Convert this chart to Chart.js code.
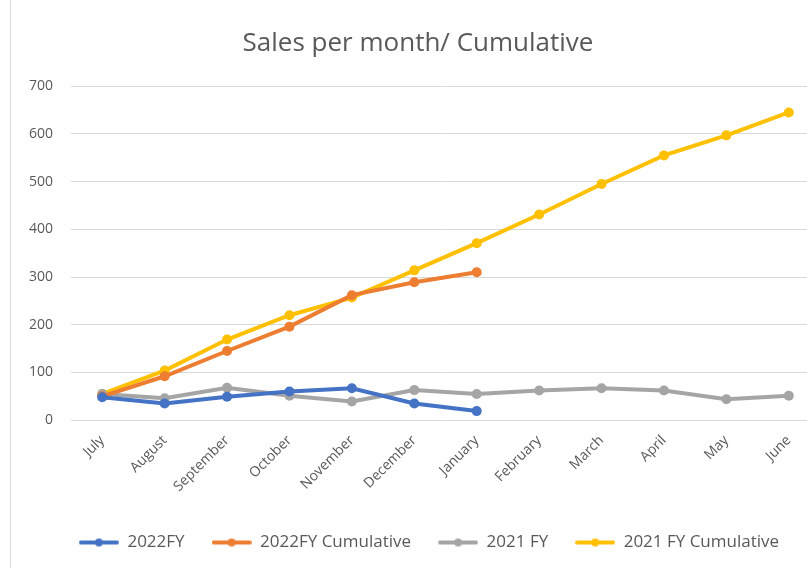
<!DOCTYPE html>
<html>
<head>
<meta charset="utf-8">
<script src="https://cdn.jsdelivr.net/npm/chart.js@4"></script>
<style>
  html,body{margin:0;padding:0;background:#fff;overflow:hidden;}
  #wrap{position:absolute;left:10px;top:0;width:814px;height:590px;border-left:1px solid #d9d9d9;}
</style>
</head>
<body>
<div id="wrap"><canvas id="c" width="814" height="590"></canvas></div>
<script>
const months = ["July","August","September","October","November","December","January","February","March","April","May","June"];
const fy2022 = [48,35,49,60,67,35,19];
const fy2022Cum = [50,92,145,196,262,289,310];
const fy2021 = [55,46,68,51,39,63,55,62,67,62,44,51];
const fy2021Cum = [55,104,169,220,257,314,371,431,495,555,597,645];
const yTicks = [0,100,200,300,400,500,600,700];

function qs(id){ return document.getElementById(id); }

// small line-with-dot swatch for the legend, like Excel
function swatch(color){
  const c = document.createElement("canvas");
  c.width = 40; c.height = 12;
  const g = c.getContext("2d");
  g.strokeStyle = color; g.lineWidth = 4; g.lineCap = "round";
  g.beginPath(); g.moveTo(2,6); g.lineTo(38,6); g.stroke();
  g.fillStyle = color;
  g.beginPath(); g.arc(20,6,4,0,Math.PI*2); g.fill();
  return c;
}

function ds(label, data, color){
  return {
    label, data,
    borderColor: color, backgroundColor: color,
    borderWidth: 4, pointRadius: 5, pointHoverRadius: 5, pointBorderWidth: 0,
    pointBackgroundColor: color, pointBorderColor: color,
    tension: 0, fill: false, pointStyle: "circle"
  };
}

const series = [
  ds("2022FY", fy2022, "#4472C4"),
  ds("2022FY Cumulative", fy2022Cum, "#ED7D31"),
  ds("2021 FY", fy2021, "#A5A5A5"),
  ds("2021 FY Cumulative", fy2021Cum, "#FFC000")
];

// legend sits a bit right of centre in the original
const nudgeLegend = {
  id: "nudgeLegend",
  afterLayout(chart){
    if(chart.legend){ chart.legend.left += 11; chart.legend.right += 11; }
  }
};

new Chart(qs("c"), {
  type: "line",
  data: { labels: months, datasets: series },
  plugins: [nudgeLegend],
  options: {
    responsive: false, animation: false,
    layout: { padding: { left: 0, right: 0, top: 28, bottom: 29 } },
    plugins: {
      title: {
        display: true, text: "Sales per month/ Cumulative",
        color: "#595959", font: { family: "Open Sans", size: 26, weight: "normal" },
        padding: { top: 0, bottom: 27 }
      },
      legend: {
        position: "bottom",
        labels: {
          usePointStyle: true, pointStyleWidth: 40, color: "#595959",
          font: { family: "Open Sans", size: 17 },
          padding: 27,
          generateLabels(chart){
            return chart.data.datasets.map((d, i) => ({
              text: d.label, pointStyle: swatch(d.borderColor), fillStyle: d.borderColor,
              strokeStyle: d.borderColor, lineWidth: 0, hidden: false,
              datasetIndex: i, fontColor: "#595959"
            }));
          }
        }
      },
      tooltip: { enabled: false }
    },
    scales: {
      x: {
        offset: true,
        grid: { display: false, drawTicks: false },
        border: { display: false },
        ticks: {
          color: "#595959", font: { family: "Open Sans", size: 14 },
          minRotation: 45, maxRotation: 45, padding: 12
        }
      },
      y: {
        min: 0, max: 700,
        afterBuildTicks(axis){ axis.ticks = yTicks.map(v => ({ value: v })); },
        grid: { color: "#d9d9d9", lineWidth: 1, drawTicks: false },
        border: { display: false },
        ticks: { color: "#595959", font: { family: "Open Sans", size: 14 }, padding: 18 }
      }
    }
  }
});
</script>
</body>
</html>
